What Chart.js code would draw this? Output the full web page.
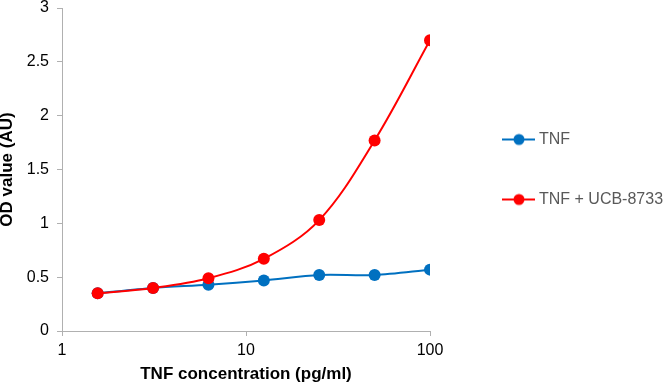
<!DOCTYPE html>
<html>
<head>
<meta charset="utf-8">
<script src="https://cdn.jsdelivr.net/npm/chart.js@4/dist/chart.umd.min.js"></script>
<style>
html,body{margin:0;padding:0;background:#fff;}
#wrap{width:666px;height:384px;position:relative;}
</style>
</head>
<body>
<div id="wrap"><canvas id="c" width="666" height="384"></canvas></div>
<script>
const concentrations = [1.5625, 3.125, 6.25, 12.5, 25, 50, 100];
const tnfValues = [0.35, 0.40, 0.43, 0.47, 0.52, 0.52, 0.57];
const ucbValues = [0.35, 0.40, 0.49, 0.67, 1.03, 1.77, 2.70];
const xTickValues = [1, 10, 100];
const xTickLabels = ['1', '10', '100'];
const yTickValues = [0, 0.5, 1, 1.5, 2, 2.5, 3];
const yTickLabels = ['0', '0.5', '1', '1.5', '2', '2.5', '3'];
const seriesNames = ['TNF', 'TNF + UCB-8733'];

const BLUE = '#0070C0';
const RED = '#FF0000';
const AXIS = '#b0b0b0';
const FONT = "'Liberation Sans', Arial, sans-serif";
const LEGEND_W = 236;

function legendGlyph(color) {
  const c = document.createElement('canvas');
  c.width = 65; c.height = 14;
  const g = c.getContext('2d');
  g.strokeStyle = color; g.lineWidth = 2;
  g.beginPath(); g.moveTo(32, 7); g.lineTo(65, 7); g.stroke();
  g.fillStyle = color;
  g.beginPath(); g.arc(49, 7, 5.5, 0, Math.PI * 2); g.fill();
  return c;
}
const glyphs = [legendGlyph(BLUE), legendGlyph(RED)];

const toXY = vals => concentrations.map((x, i) => ({x: x, y: vals[i]}));

const legendWidthPlugin = {
  id: 'legendWidth',
  beforeLayout(chart) {
    const lg = chart.legend;
    if (lg && !lg._wPatched) {
      const orig = lg.fit;
      lg.fit = function () { this.maxWidth = LEGEND_W; orig.call(this); this.width = LEGEND_W; };
      lg._wPatched = true;
    }
  }
};

new Chart(document.getElementById('c'), {
  type: 'line',
  data: {
    datasets: [
      {label: seriesNames[0], data: toXY(tnfValues), borderColor: BLUE, backgroundColor: BLUE,
       pointBackgroundColor: BLUE, pointBorderColor: BLUE, pointRadius: 6, pointBorderWidth: 0,
       borderWidth: 2, tension: 0.3, order: 1},
      {label: seriesNames[1], data: toXY(ucbValues), borderColor: RED, backgroundColor: RED,
       pointBackgroundColor: RED, pointBorderColor: RED, pointRadius: 6, pointBorderWidth: 0,
       borderWidth: 2, tension: 0.35, order: 0}
    ]
  },
  plugins: [legendWidthPlugin],
  options: {
    responsive: false,
    animation: false,
    devicePixelRatio: 1,
    layout: {padding: {left: 0, top: 8, right: 0, bottom: 0}},
    plugins: {
      tooltip: {enabled: false},
      legend: {
        position: 'right',
        fullSize: false,
        align: 'center',
        labels: {
          usePointStyle: true,
          pointStyleWidth: 57,
          padding: 44,
          color: '#595959',
          font: {family: FONT, size: 16},
          sort: (a, b) => a.datasetIndex - b.datasetIndex,
          generateLabels: (chart) => {
            const items = Chart.defaults.plugins.legend.labels.generateLabels(chart);
            items.forEach(it => { it.pointStyle = glyphs[it.datasetIndex]; });
            return items;
          }
        }
      }
    },
    scales: {
      x: {
        type: 'logarithmic',
        min: 1, max: 100,
        afterBuildTicks: s => { s.ticks = xTickValues.map(v => ({value: v})); },
        afterFit: s => { s.height = 53; s.paddingLeft = 0; s.paddingRight = 0; },
        grid: {display: true, drawOnChartArea: false, drawTicks: true, tickLength: 5, color: AXIS, lineWidth: 1},
        border: {display: true, color: AXIS, width: 1},
        ticks: {
          color: '#000', padding: 5, maxRotation: 0, autoSkip: false,
          font: {family: FONT, size: 16},
          callback: v => { const i = xTickValues.indexOf(v); return i >= 0 ? xTickLabels[i] : ''; }
        },
        title: {display: true, text: 'TNF concentration (pg/ml)', color: '#000',
                font: {family: FONT, size: 17, weight: 'bold'}, padding: {top: 0, bottom: -1}}
      },
      y: {
        min: 0, max: 3,
        afterBuildTicks: s => { s.ticks = yTickValues.map(v => ({value: v})); },
        afterFit: s => { s.width = 62; s.paddingTop = 0; s.paddingBottom = 0; },
        grid: {display: true, drawOnChartArea: false, drawTicks: true, tickLength: 5, color: AXIS, lineWidth: 1},
        border: {display: true, color: AXIS, width: 1},
        ticks: {
          color: '#000', padding: 8,
          font: {family: FONT, size: 16},
          callback: (v) => { const i = yTickValues.indexOf(v); return i >= 0 ? yTickLabels[i] : ''; }
        },
        title: {display: true, text: 'OD value (AU)', color: '#000',
                font: {family: FONT, size: 17, weight: 'bold'}, padding: {top: -3, bottom: 0}}
      }
    }
  }
});
</script>
</body>
</html>
